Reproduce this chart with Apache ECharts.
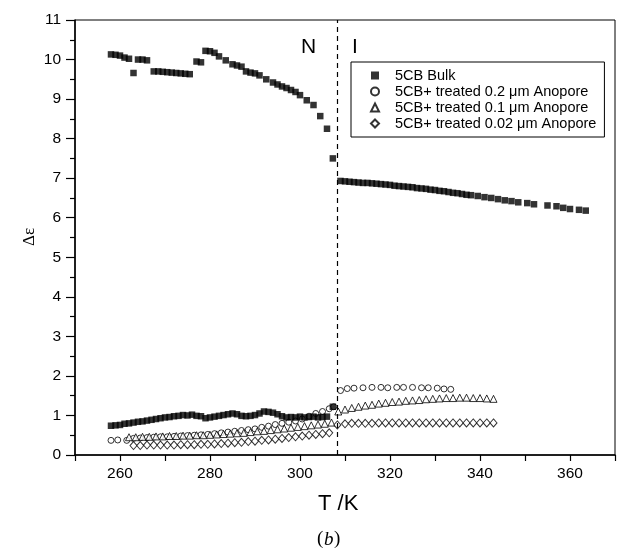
<!DOCTYPE html>
<html>
<head>
<meta charset="utf-8">
<script src="https://cdn.jsdelivr.net/npm/echarts@6/dist/echarts.min.js"></script>
<style>
  html, body { margin: 0; padding: 0; background: #fff; }
  #chart { width: 618px; height: 555px; }
</style>
</head>
<body>
<div id="chart"></div>
<script>
// Dielectric anisotropy of 5CB, bulk and confined in treated Anopore membranes

// 5CB bulk, nematic phase (upper branch)
const bulkNemT   = [258, 259, 260, 261, 262, 263, 264, 265, 266, 267.5, 268.5, 269.5, 270.5, 271.5, 272.5, 273.5, 274.5, 275.5, 277, 278, 279, 280, 281, 282, 283.5, 285, 286, 287, 288, 289, 290, 291, 292.5, 294, 295, 296, 297, 298, 299, 300, 301.5, 303, 304.5, 306, 307.3];
const bulkNemEps = [10.13, 10.12, 10.1, 10.05, 10.02, 9.66, 10.0, 10.0, 9.98, 9.7, 9.7, 9.69, 9.68, 9.67, 9.66, 9.65, 9.64, 9.63, 9.95, 9.93, 10.22, 10.21, 10.17, 10.08, 9.98, 9.88, 9.85, 9.82, 9.7, 9.67, 9.65, 9.6, 9.5, 9.42, 9.37, 9.32, 9.28, 9.23, 9.18, 9.1, 8.97, 8.85, 8.57, 8.25, 7.5];

// 5CB bulk, isotropic phase
const bulkIsoT   = [309, 310, 311, 312, 313, 314, 315, 316, 317, 318, 319, 320, 321, 322, 323, 324, 325, 326, 327, 328, 329, 330, 331, 332, 333, 334, 335, 336, 337, 338, 339.5, 341, 342.5, 344, 345.5, 347, 348.5, 350.5, 352, 355, 357, 358.5, 360, 362, 363.5];
const bulkIsoEps = [6.93, 6.92, 6.91, 6.9, 6.89, 6.88, 6.88, 6.87, 6.86, 6.85, 6.84, 6.83, 6.81, 6.8, 6.79, 6.78, 6.77, 6.75, 6.74, 6.73, 6.71, 6.7, 6.68, 6.67, 6.65, 6.63, 6.62, 6.6, 6.58, 6.57, 6.55, 6.52, 6.5, 6.47, 6.44, 6.42, 6.39, 6.37, 6.34, 6.31, 6.29, 6.25, 6.22, 6.2, 6.18];

// 5CB bulk, lower nematic branch
const bulkLowT   = [258, 259, 260, 261, 262, 263, 264, 265, 266, 267, 268, 269, 270, 271, 272, 273, 274, 275, 276, 277, 278, 279, 280, 281, 282, 283, 284, 285, 286, 287, 288, 289, 290, 291, 292, 293, 294, 295, 296, 297, 298, 299, 300, 301, 302, 303, 304, 305, 306, 307.3];
const bulkLowEps = [0.74, 0.75, 0.76, 0.79, 0.8, 0.82, 0.84, 0.85, 0.87, 0.89, 0.91, 0.93, 0.95, 0.96, 0.98, 0.99, 1.01, 1.0, 1.02, 0.99, 0.98, 0.93, 0.95, 0.97, 0.99, 1.01, 1.03, 1.05, 1.03, 0.99, 0.98, 0.99, 1.01, 1.05, 1.1, 1.09, 1.07, 1.03, 0.98, 0.95, 0.96, 0.95, 0.97, 0.95, 0.96, 0.97, 0.95, 0.96, 0.97, 1.22];

// 5CB + treated 0.2 um Anopore
const p02T   = [258, 259.5, 261.5, 263, 264.5, 266, 267.5, 269, 270.5, 272, 273.5, 275, 276.5, 278, 279.5, 281, 282.5, 284, 285.5, 287, 288.5, 290, 291.5, 293, 294.5, 296, 297.5, 299, 300.5, 302, 303.5, 305, 306.5, 307.5,
                309, 310.5, 312, 314, 316, 318, 319.5, 321.5, 323, 325, 327, 328.5, 330.5, 332, 333.5];
const p02Eps = [0.37, 0.38, 0.37, 0.42, 0.43, 0.44, 0.45, 0.46, 0.46, 0.47, 0.48, 0.49, 0.5, 0.51, 0.52, 0.54, 0.56, 0.58, 0.6, 0.62, 0.64, 0.66, 0.7, 0.73, 0.77, 0.8, 0.83, 0.86, 0.91, 0.98, 1.05, 1.1, 1.17, 1.22,
                1.63, 1.68, 1.69, 1.7, 1.71, 1.71, 1.7, 1.71, 1.71, 1.71, 1.7, 1.7, 1.69, 1.67, 1.66];

// 5CB + treated 0.1 um Anopore
const p01T   = [262, 263.5, 265, 266.5, 268, 269.5, 271, 272.5, 274, 275.5, 277, 278.5, 280, 281.5, 283, 284.5, 286, 287.5, 289, 290.5, 292, 293.5, 295, 296.5, 298, 299.5, 301, 302.5, 304, 305.5, 307,
                308.5, 310, 311.5, 313, 314.5, 316, 317.5, 319, 320.5, 322, 323.5, 325, 326.5, 328, 329.5, 331, 332.5, 334, 335.5, 337, 338.5, 340, 341.5, 343];
const p01Eps = [0.45, 0.45, 0.46, 0.46, 0.47, 0.47, 0.48, 0.48, 0.49, 0.49, 0.5, 0.5, 0.51, 0.52, 0.53, 0.54, 0.55, 0.56, 0.58, 0.6, 0.61, 0.63, 0.65, 0.67, 0.69, 0.71, 0.73, 0.75, 0.77, 0.79, 0.82,
                1.1, 1.15, 1.19, 1.22, 1.25, 1.27, 1.3, 1.32, 1.34, 1.35, 1.37, 1.38, 1.39, 1.41, 1.42, 1.43, 1.44, 1.44, 1.45, 1.45, 1.44, 1.44, 1.43, 1.42];

// 5CB + treated 0.02 um Anopore
const p002T   = [263, 264.5, 266, 267.5, 269, 270.5, 272, 273.5, 275, 276.5, 278, 279.5, 281, 282.5, 284, 285.5, 287, 288.5, 290, 291.5, 293, 294.5, 296, 297.5, 299, 300.5, 302, 303.5, 305, 306.5,
                 308.3, 310, 311.5, 313, 314.5, 316, 317.5, 319, 320.5, 322, 323.5, 325, 326.5, 328, 329.5, 331, 332.5, 334, 335.5, 337, 338.5, 340, 341.5, 343];
const p002Eps = [0.24, 0.24, 0.25, 0.25, 0.25, 0.25, 0.25, 0.26, 0.26, 0.26, 0.27, 0.27, 0.28, 0.29, 0.3, 0.31, 0.32, 0.34, 0.35, 0.37, 0.38, 0.4, 0.42, 0.44, 0.46, 0.48, 0.5, 0.52, 0.54, 0.56,
                 0.76, 0.79, 0.8, 0.8, 0.8, 0.8, 0.81, 0.81, 0.81, 0.81, 0.81, 0.81, 0.81, 0.81, 0.81, 0.81, 0.81, 0.81, 0.81, 0.81, 0.81, 0.81, 0.81, 0.81];

// Nematic-isotropic transition temperature
const tNI = 308.3;

const xTicks = [260, 280, 300, 320, 340, 360];

const seriesNames = [
  '5CB Bulk',
  '5CB+ treated 0.2 \u03bcm Anopore',
  '5CB+ treated 0.1 \u03bcm Anopore',
  '5CB+ treated 0.02 \u03bcm Anopore'
];

function pairs(xs, ys) { return xs.map((x, i) => [x, ys[i]]); }

const SANS = '"Liberation Sans", Arial, sans-serif';
const SERIF = '"Liberation Serif", "Times New Roman", serif';

const chart = echarts.init(document.getElementById('chart'), null, { renderer: 'canvas' });

const openStyle = { color: '#ffffff', borderColor: '#000000', borderWidth: 1 };

chart.setOption({
  animation: false,
  backgroundColor: '#ffffff',
  grid: {
    left: 75, right: 1, top: 20, bottom: 100,
    show: true, borderColor: '#000', borderWidth: 1, backgroundColor: 'transparent'
  },
  xAxis: {
    type: 'value', min: 250, max: 370, interval: 10,
    axisLine: { onZero: false, lineStyle: { color: '#000', width: 1.5 } },
    axisTick: { show: true, length: 6, lineStyle: { color: '#000', width: 1.2 } },
    axisLabel: {
      fontFamily: SANS, fontSize: 15.5, color: '#000', margin: 11,
      formatter: v => (xTicks.indexOf(v) >= 0 ? String(v) : '')
    },
    splitLine: { show: false }
  },
  yAxis: {
    type: 'value', min: 0, max: 11, interval: 1,
    axisLine: { onZero: false, lineStyle: { color: '#000', width: 1.5 } },
    axisTick: { show: true, length: 9, lineStyle: { color: '#000', width: 1.2 } },
    minorTick: { show: true, splitNumber: 2, length: 5, lineStyle: { color: '#000', width: 1.2 } },
    axisLabel: { fontFamily: SANS, fontSize: 15.5, color: '#000', margin: 14 },
    splitLine: { show: false }
  },
  legend: {
    orient: 'vertical', left: 351, top: 62,
    itemWidth: 8, itemHeight: 8, itemGap: 1,
    padding: [6, 8, 6, 19],
    borderColor: '#000', borderWidth: 1, backgroundColor: '#fff',
    textStyle: { fontFamily: SANS, fontSize: 14.5, lineHeight: 15, color: '#000', padding: [0, 0, 0, 11] },
    data: seriesNames
  },
  series: [
    {
      name: seriesNames[0], type: 'scatter', symbol: 'rect', symbolSize: 6.5,
      itemStyle: { color: '#000' },
      data: pairs(bulkNemT, bulkNemEps).concat(pairs(bulkIsoT, bulkIsoEps), pairs(bulkLowT, bulkLowEps)),
      markLine: {
        silent: true, symbol: 'none', label: { show: false },
        lineStyle: { color: '#000', type: [5, 4], width: 1.2 },
        data: [{ xAxis: tNI }]
      },
      z: 3
    },
    {
      name: seriesNames[1], type: 'scatter', symbol: 'circle', symbolSize: 6,
      itemStyle: openStyle, data: pairs(p02T, p02Eps), z: 2
    },
    {
      name: seriesNames[2], type: 'scatter', symbol: 'triangle', symbolSize: 7,
      itemStyle: openStyle, data: pairs(p01T, p01Eps), z: 2
    },
    {
      name: seriesNames[3], type: 'scatter', symbol: 'diamond', symbolSize: [7, 8],
      itemStyle: openStyle, data: pairs(p002T, p002Eps), z: 2
    }
  ],
  graphic: [
    // y-axis title, rotated to read bottom-to-top
    {
      type: 'text', x: 30, y: 237, rotation: Math.PI / 2,
      style: { text: '\u0394\u03b5', font: '17px ' + SERIF, fill: '#000', align: 'center', verticalAlign: 'middle' }
    },
    { type: 'text', left: 301, top: 37, style: { text: 'N', font: '21px ' + SANS, fill: '#000' } },
    { type: 'text', left: 352, top: 37, style: { text: 'I', font: '21px ' + SANS, fill: '#000' } },
    { type: 'text', left: 318, top: 493, style: { text: 'T /K', font: '22px ' + SANS, fill: '#000' } },
    { type: 'text', left: 317, top: 530, style: { text: '(', font: '19px ' + SERIF, fill: '#000' } },
    { type: 'text', left: 324, top: 530, style: { text: 'b', font: 'italic 19px ' + SERIF, fill: '#000' } },
    { type: 'text', left: 334, top: 530, style: { text: ')', font: '19px ' + SERIF, fill: '#000' } }
  ]
});
</script>
</body>
</html>
